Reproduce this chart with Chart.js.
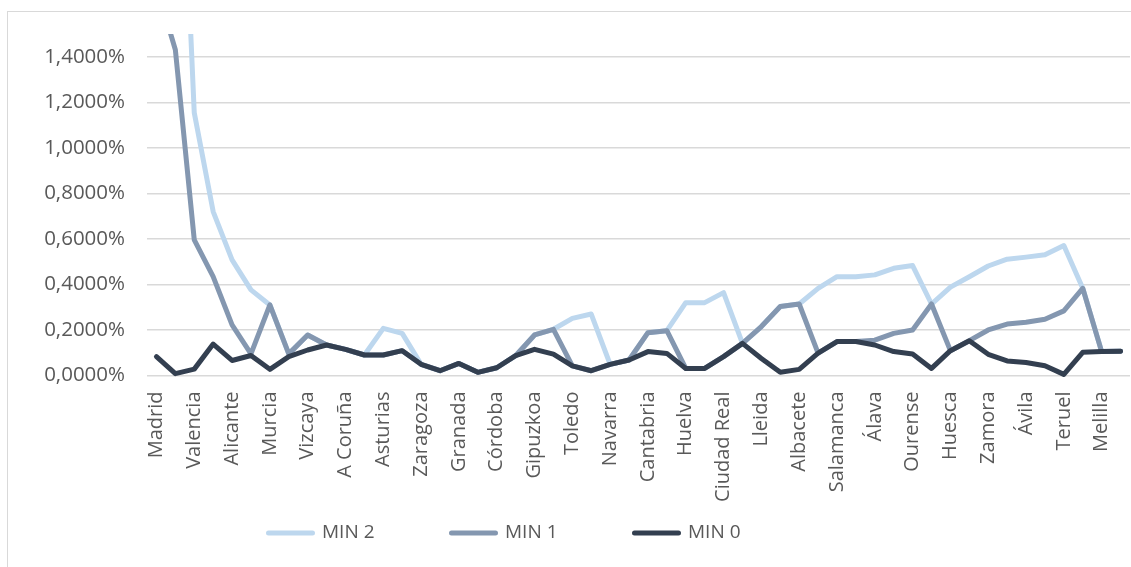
<!DOCTYPE html>
<html lang="es">
<head>
<meta charset="utf-8">
<title>MIN 0 / MIN 1 / MIN 2 por provincia</title>
<script src="https://cdn.jsdelivr.net/npm/chart.js@4.4.1/dist/chart.umd.min.js"></script>
<style>
  html, body { margin: 0; padding: 0; background: #fff; overflow: hidden; }
  #frame { position: absolute; left: 7px; top: 11px; width: 1140px; height: 570px; border: 1px solid #d9d9d9; box-sizing: border-box; }
  #chart { position: absolute; left: 0; top: 0; }
</style>
</head>
<body>
<div id="frame"></div>
<canvas id="chart" width="1131" height="567"></canvas>
<script>
/* ── data (values in %) ─────────────────────────────────────────────────── */
const PROVINCIAS = [
  'Madrid','Barcelona','Valencia','Sevilla','Alicante','Málaga','Murcia','Cádiz',
  'Vizcaya','Baleares','A Coruña','Las Palmas','Asturias','S.C. Tenerife','Zaragoza','Pontevedra',
  'Granada','Tarragona','Córdoba','Girona','Gipuzkoa','Almería','Toledo','Badajoz',
  'Navarra','Jaén','Cantabria','Castellón','Huelva','Valladolid','Ciudad Real','León',
  'Lleida','Cáceres','Albacete','Guadalajara','Salamanca','Lugo','Álava','La Rioja',
  'Ourense','Burgos','Huesca','Cuenca','Zamora','Palencia','Ávila','Segovia',
  'Teruel','Soria','Melilla','Ceuta'
];

const MIN0 = [
  0.083, 0.008, 0.028, 0.138, 0.066, 0.088, 0.027, 0.083,
  0.112, 0.134, 0.115, 0.090, 0.090, 0.109, 0.049, 0.021,
  0.053, 0.014, 0.034, 0.087, 0.115, 0.094, 0.042, 0.021,
  0.049, 0.068, 0.105, 0.097, 0.031, 0.031, 0.083, 0.141,
  0.075, 0.014, 0.027, 0.098, 0.149, 0.149, 0.134, 0.105,
  0.094, 0.031, 0.109, 0.153, 0.093, 0.064, 0.057, 0.043,
  0.005, 0.102, 0.105, 0.107
];

const MIN1 = [
  1.710, 1.431, 0.596, 0.434, 0.222, 0.095, 0.310, 0.095,
  0.178, 0.134, 0.115, 0.090, 0.090, 0.109, 0.049, 0.021,
  0.053, 0.014, 0.034, 0.087, 0.178, 0.203, 0.042, 0.021,
  0.049, 0.068, 0.188, 0.197, 0.031, 0.031, 0.083, 0.141,
  0.215, 0.303, 0.314, 0.098, 0.149, 0.149, 0.155, 0.185,
  0.200, 0.314, 0.109, 0.153, 0.200, 0.226, 0.234, 0.247,
  0.284, 0.383, 0.105, 0.107
];

const MIN2 = [
  4.500, 3.030, 1.154, 0.720, 0.508, 0.376, 0.310, 0.095,
  0.178, 0.134, 0.115, 0.090, 0.207, 0.185, 0.049, 0.021,
  0.053, 0.014, 0.034, 0.087, 0.178, 0.203, 0.251, 0.270,
  0.049, 0.068, 0.188, 0.197, 0.320, 0.320, 0.364, 0.141,
  0.215, 0.303, 0.314, 0.383, 0.434, 0.434, 0.442, 0.471,
  0.483, 0.314, 0.388, 0.434, 0.481, 0.511, 0.520, 0.530,
  0.571, 0.383, 0.105, 0.107
];

const Y_MAX  = 1.5;
const Y_STEP = 0.2;
const Y_TOP_TICK = 1.4;

/* ── look ───────────────────────────────────────────────────────────────── */
const FONT = "'Open Sans', sans-serif";
const TXT  = '#595959';
const GRID = '#d9d9d9';

function serie(label, data, color) {
  return {
    label, data,
    borderColor: color,
    backgroundColor: color,
    borderWidth: 5,
    borderJoinStyle: 'round',
    borderCapStyle: 'round',
    pointRadius: 0,
    pointHoverRadius: 0,
    tension: 0,
    fill: false,
    clip: { top: 0, left: false, right: false, bottom: false }
  };
}

/* put the legend row where Excel put it (not centred on the canvas) */
const legendShift = {
  id: 'legendShift',
  beforeDraw(chart) {
    const lg = chart.legend;
    if (!lg) return;
    const w = lg.right - lg.left;
    const pad = lg.options.labels.padding;
    const fs = lg.options.labels.font.size;
    lg.left = 268.5 - pad;
    lg.right = lg.left + w;
    lg.top = 533 - pad - fs / 2;   // text centre = top + padding + itemHeight/2
  }
};

new Chart(document.getElementById('chart').getContext('2d'), {
  type: 'line',
  data: {
    labels: PROVINCIAS,
    // dataset 0 is painted last, so MIN 0 sits on top
    datasets: [
      serie('MIN 0', MIN0, '#333f50'),
      serie('MIN 1', MIN1, '#8497b0'),
      serie('MIN 2', MIN2, '#bdd7ee')
    ]
  },
  plugins: [legendShift],
  options: {
    responsive: false,
    animation: false,
    devicePixelRatio: 1,
    layout: { padding: { top: 34, right: 1, bottom: 24.5, left: 0 } },
    events: [],
    scales: {
      x: {
        offset: true,
        grid: { display: false, drawTicks: false },
        border: { display: false },
        ticks: {
          autoSkip: false,
          minRotation: 90,
          maxRotation: 90,
          padding: 16,
          color: TXT,
          font: { family: FONT, size: 20 },
          callback: (v, i) => i % 2 === 0 ? PROVINCIAS[i] : ''
        },
        afterFit: s => { s.height = 127; s.paddingLeft = 0; s.paddingRight = 0; }
      },
      y: {
        min: 0,
        max: Y_MAX,
        afterBuildTicks: s => { s.ticks = s.ticks.filter(t => t.value <= Y_TOP_TICK + 1e-9); },
        grid: { color: GRID, lineWidth: 1.5, drawTicks: false },
        border: { display: false },
        ticks: {
          stepSize: Y_STEP,
          includeBounds: false,
          autoSkip: false,
          padding: 22,
          color: TXT,
          font: { family: FONT, size: 20.5 },
          callback: v => v.toFixed(4).replace('.', ',') + '%'
        },
        afterFit: s => { s.width = 147; s.paddingTop = 0; s.paddingBottom = 0; }
      }
    },
    plugins: {
      tooltip: { enabled: false },
      legend: {
        position: 'bottom',
        align: 'start',
        reverse: true,
        maxHeight: 40,
        labels: {
          boxWidth: 44,
          boxHeight: 0,
          padding: 77,
          color: TXT,
          font: { family: FONT, size: 19 }
        }
      }
    }
  }
});
</script>
</body>
</html>
